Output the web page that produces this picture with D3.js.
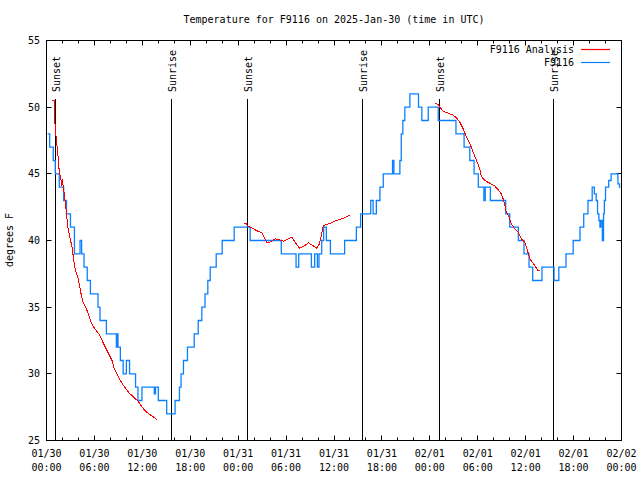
<!DOCTYPE html>
<html><head><meta charset="utf-8">
<script src="https://cdn.jsdelivr.net/npm/d3@7"></script>
<style>
body{margin:0;background:#fff}
svg text{font-family:"DejaVu Sans Mono",monospace;font-size:10px;fill:#000}
</style>
</head><body>
<svg id="chart" width="640" height="480"></svg>
<script>
const titleText = "Temperature for F9116 on 2025-Jan-30 (time in UTC)";
const yLabel = "degrees F";
const startTime = "2025-01-30T00:00:00Z";
const endTime = "2025-02-02T00:00:00Z";
const yTicks = [25, 30, 35, 40, 45, 50, 55];
const seriesNames = ["F9116 Analysis", "F9116"];
const sunsetHours = [1.16, 25.16, 49.16];
const sunriseHours = [15.66, 39.54, 63.54];

// Observations (hours after start, deg F) — step changes
const obsHours = [0.15,0.4,0.85,1.1,1.6,2.15,2.5,3.0,3.5,4.2,4.4,4.7,5.1,5.5,6.45,6.7,7.5,8.75,8.85,8.95,9.25,9.6,10.0,10.4,11.15,11.45,11.95,13.5,13.65,14.0,15.05,16.1,16.65,16.85,17.15,17.65,18.5,19.0,19.45,19.85,20.2,20.5,21.25,22.0,23.5,25.5,29.4,31.25,31.58,33.17,33.58,33.92,34.12,34.46,34.7,35.04,35.55,37.33,38.8,39.33,40.6,40.9,41.3,41.75,42.17,43.33,43.5,44.25,44.42,44.62,44.87,45.5,46.58,47.0,47.8,49.05,51.27,52.29,53.0,53.54,54.07,54.77,54.94,55.58,57.5,58.0,59.08,59.79,60.42,60.88,62.04,63.55,64.15,65.05,65.95,66.8,67.27,67.8,68.33,68.6,68.83,69.0,69.17,69.3,69.42,69.6,69.75,69.85,70.0,70.4,70.7,71.55,71.75,71.85];
const obsTemps = [48,47,46,45,44,43,42,41,39,40,39,38,37,36,35,34,33,32,33,32,31,30,31,30,29,28,29,28.5,29,28,27,28,29,30,31,32,33,34,35,36,37,38,39,40,41,40,39,38,39,38,39,38,39,40,41,40,39,40,41,42,43,42,43,44,45,46,45,46,48,49,50,51,50,49,50,49,48,47,46,45,44,43,44,43,42,41,40,39,38,37,38,37,38,39,40,41,42,43,44,43.5,43,42,41.5,41,41.5,40,42,43,44,44.5,45,44.25,44,44];

// Analysis (hours after start, deg F); null marks a gap
const anaHours = [0.66,0.98,1.0,1.125,1.25,1.42,1.54,1.67,1.83,1.9,1.96,2.05,2.17,2.375,2.5,2.67,2.92,3.2,3.42,3.625,3.92,4.17,4.33,4.5,4.67,5.08,5.5,5.92,6.54,6.96,7.375,7.79,8.21,8.42,8.75,9.25,9.67,10.29,10.92,11.54,11.96,12.58,13.42,13.83,
  null,
  24.67,25.0,25.29,25.71,26.12,26.54,26.96,27.25,27.58,28.0,28.62,29.04,29.67,30.29,30.71,31.12,31.67,32.17,32.79,33.33,33.83,34.17,34.46,34.67,35.08,35.58,36.12,36.75,37.37,37.79,38.0,
  null,
  48.62,49.1,49.25,49.67,50.29,50.92,51.33,51.75,52.17,52.58,53.0,53.42,53.75,54.04,54.25,54.46,54.87,55.5,56.12,56.54,56.96,57.25,57.58,57.92,58.21,58.62,59.04,59.46,59.87,60.17,60.5,60.83,61.12,61.54,61.83];
const anaTemps = [50.55,50.5,49.25,48.25,47.5,46.5,45.5,45,44.5,44.1,44.6,44.25,43.75,42.75,42,41,40.25,39.5,38.5,37.75,37.25,36.5,36,35.5,35.25,34.75,34,33.5,33,32.5,32,31.5,31,30.5,30.1,29.5,29.1,28.6,28.25,27.9,27.5,27.1,26.75,26.55,
  null,
  41.33,41.25,41.05,40.95,40.8,40.68,40.58,40.25,39.83,39.88,40.13,40.08,39.95,40.13,40.25,39.88,39.43,39.55,39.83,39.63,39.43,39.75,40.5,41.13,41.2,41.3,41.45,41.58,41.7,41.85,41.88,
  null,
  50.33,50.15,50.0,49.7,49.55,49.4,49.2,48.88,48.38,47.75,47.3,46.63,46.15,45.7,45.38,44.8,44.5,44.3,44.1,43.82,43.5,43.0,42.13,41.75,41.25,40.88,40.63,40.13,39.88,39.38,38.63,38.38,38.13,37.75,37.73];

const colors = {ana: "#ff0000", obs: "#0a80ff"};

const svg = d3.select("#chart");
const t0 = new Date(startTime), t1 = new Date(endTime);
const L = 46.5, R = 621.5, T = 40.5, B = 440.5;
const x = d3.scaleUtc().domain([t0, t1]).range([L, R]);
const y = d3.scaleLinear().domain([25, 55]).range([B, T]);
const hToDate = h => new Date(t0.getTime() + h * 3600e3);

// title
svg.append("text").attr("x", (L + R) / 2).attr("y", 23).attr("text-anchor", "middle").text(titleText);
// y label
svg.append("text").attr("transform", "translate(13,240) rotate(-90)").attr("text-anchor", "middle").text(yLabel);

const g = svg.append("g");
// frame
g.append("rect").attr("x", L).attr("y", T).attr("width", R - L).attr("height", B - T)
  .attr("fill", "none").attr("stroke", "#000").attr("stroke-width", 1);

// y ticks
yTicks.forEach(v => {
  const yy = Math.round(y(v) - 0.5) + 0.5;
  g.append("line").attr("x1", L).attr("x2", L + 5).attr("y1", yy).attr("y2", yy).attr("stroke", "#000");
  g.append("line").attr("x1", R).attr("x2", R - 5).attr("y1", yy).attr("y2", yy).attr("stroke", "#000");
  svg.append("text").attr("x", 40).attr("y", yy + 3.5).attr("text-anchor", "end").text(v);
});

// x ticks
const major = d3.utcHour.every(6).range(t0, new Date(t1.getTime() + 1));
const minor = d3.utcHour.every(2).range(t0, new Date(t1.getTime() + 1));
const fmtD = d3.utcFormat("%m/%d"), fmtH = d3.utcFormat("%H:%M");
minor.forEach(d => {
  const isMajor = d.getUTCHours() % 6 === 0;
  const len = isMajor ? 5 : 3;
  const xx = Math.round(x(d) - 0.5) + 0.5;
  g.append("line").attr("x1", xx).attr("x2", xx).attr("y1", B).attr("y2", B - len).attr("stroke", "#000");
  g.append("line").attr("x1", xx).attr("x2", xx).attr("y1", T).attr("y2", T + len).attr("stroke", "#000");
});
major.forEach(d => {
  const xx = x(d);
  svg.append("text").attr("x", xx).attr("y", 457).attr("text-anchor", "middle").text(fmtD(d));
  svg.append("text").attr("x", xx).attr("y", 471).attr("text-anchor", "middle").text(fmtH(d));
});

// sunrise / sunset lines
const events = sunsetHours.map(h => ({h, label: "Sunset"}))
  .concat(sunriseHours.map(h => ({h, label: "Sunrise"})));
events.forEach(e => {
  const xx = Math.round(x(hToDate(e.h)) - 0.5) + 0.5;
  g.append("line").attr("x1", xx).attr("x2", xx).attr("y1", 99).attr("y2", B).attr("stroke", "#000");
  svg.append("text").attr("transform", `translate(${xx + 1},92) rotate(-90)`)
    .attr("dominant-baseline", "central").text(e.label);
});

// series
svg.append("clipPath").attr("id", "clip").append("rect")
  .attr("x", L).attr("y", T).attr("width", R - L).attr("height", B - T);
const idxA = d3.range(anaHours.length);
const lineA = d3.line().defined(i => anaTemps[i] != null)
  .x(i => x(hToDate(anaHours[i]))).y(i => y(anaTemps[i]));
const idxO = d3.range(obsHours.length);
const lineO = d3.line().curve(d3.curveStepAfter)
  .x(i => x(hToDate(obsHours[i]))).y(i => y(obsTemps[i]));

svg.append("path").attr("clip-path", "url(#clip)").attr("d", lineO(idxO))
  .attr("fill", "none").attr("stroke", colors.obs).attr("stroke-width", 1.3);
svg.append("path").attr("clip-path", "url(#clip)").attr("d", lineA(idxA))
  .attr("fill", "none").attr("stroke", colors.ana).attr("stroke-width", 1)
  .attr("shape-rendering", "crispEdges");

// legend
const legend = [{name: seriesNames[0], color: colors.ana}, {name: seriesNames[1], color: colors.obs}];
legend.forEach((s, i) => {
  const yy = 49.5 + i * 13;
  svg.append("text").attr("x", 574).attr("y", yy + 3.5).attr("text-anchor", "end").text(s.name);
  svg.append("line").attr("x1", 581).attr("x2", 610).attr("y1", yy).attr("y2", yy)
    .attr("stroke", s.color).attr("stroke-width", 1.2);
});
</script>
</body></html>
